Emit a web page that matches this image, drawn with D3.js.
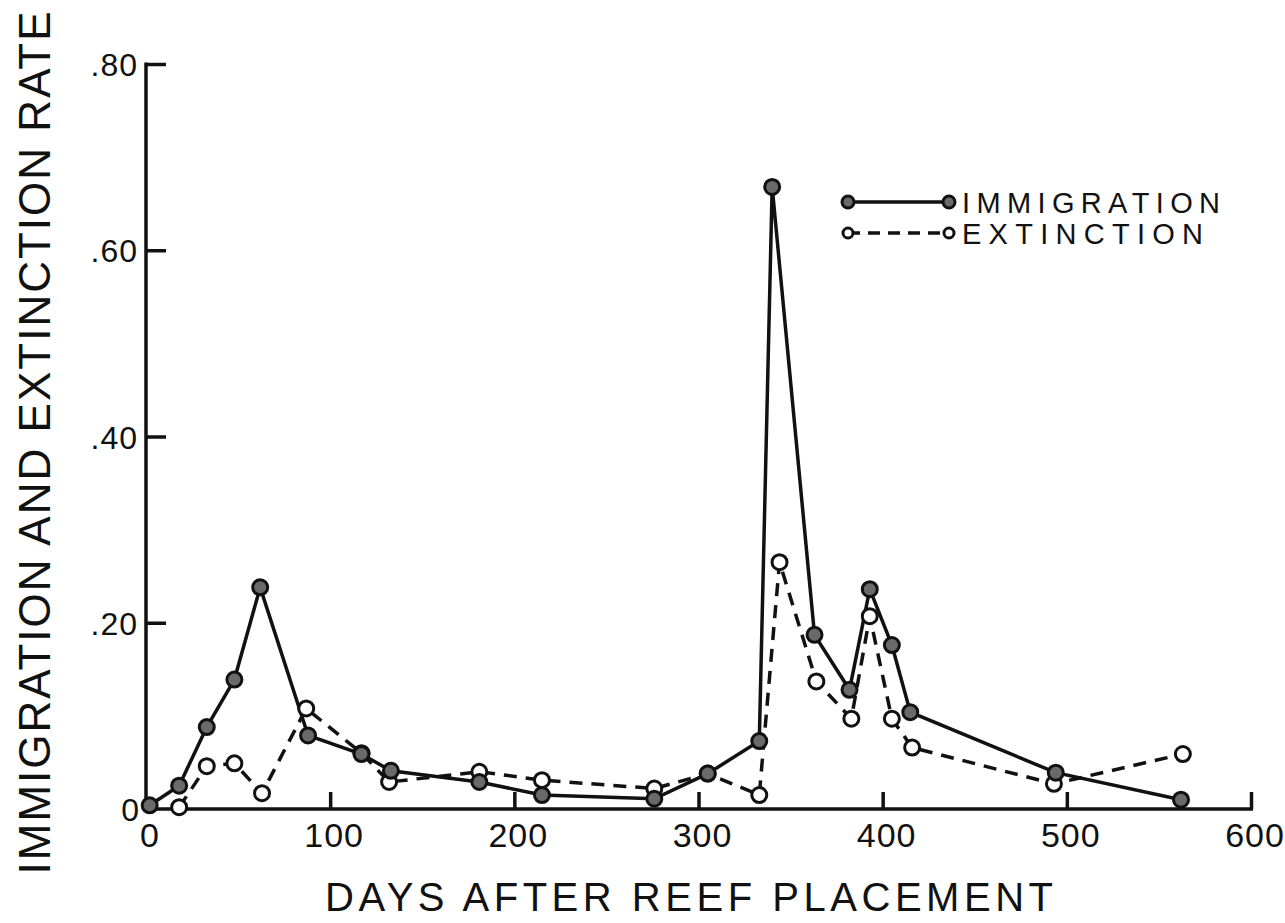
<!DOCTYPE html>
<html>
<head>
<meta charset="utf-8">
<script src="https://cdn.jsdelivr.net/npm/d3@7"></script>
<style>
  html, body { margin: 0; padding: 0; background: #fff; }
  svg { display: block; font-family: 'Liberation Sans', Arial, sans-serif; }
</style>
</head>
<body>
<div id="chart"></div>
<script>
// days after placement and rates
const immigrationDays = [2, 18, 33, 48, 62, 88, 117, 133, 181, 215, 276, 305, 333, 340, 363, 382, 393, 405, 415, 494, 562];
const immigrationRates = [0.004, 0.025, 0.088, 0.139, 0.238, 0.079, 0.059, 0.041, 0.029, 0.015, 0.011, 0.038, 0.073, 0.668, 0.187, 0.128, 0.236, 0.176, 0.104, 0.039, 0.010];

const extinctionDays = [18, 33, 48, 63, 87, 117, 132, 181, 215, 276, 305, 333, 344, 364, 383, 393, 405, 416, 493, 563];
const extinctionRates = [0.002, 0.046, 0.049, 0.017, 0.108, 0.060, 0.029, 0.040, 0.031, 0.022, 0.038, 0.015, 0.265, 0.137, 0.097, 0.207, 0.097, 0.066, 0.027, 0.059];

const xTicks = [0, 100, 200, 300, 400, 500, 600];
const xTickLabels = ['0', '100', '200', '300', '400', '500', '600'];
const yTicks = [0, 0.2, 0.4, 0.6, 0.8];
const yTickLabels = ['0', '.20', '.40', '.60', '.80'];

const legendLabels = ['IMMIGRATION', 'EXTINCTION'];

const width = 1285;
const height = 923;
const ink = '#111';

const svg = d3
  .select('#chart')
  .append('svg')
  .attr('width', width)
  .attr('height', height);

const x = d3.scaleLinear().domain([0, 600]).range([146, 1251]);
const y = d3.scaleLinear().domain([0, 0.8]).range([809, 64]);

const immigration = immigrationDays.map((day, i) => ({ day, rate: immigrationRates[i] }));
const extinction = extinctionDays.map((day, i) => ({ day, rate: extinctionRates[i] }));

// axes: ticks point inward, labels drawn by hand to match the lettering
const xAxis = svg
  .append('g')
  .attr('transform', `translate(0, ${y(0)})`)
  .call(
    d3
      .axisBottom(x)
      .tickValues(xTicks.slice(1))
      .tickSizeInner(-17)
      .tickSizeOuter(0)
      .tickFormat('')
  );
xAxis.select('.domain').attr('stroke', ink).attr('stroke-width', 3.5).attr('d', `M${x(0)},0H${x(600) + 2}`);
xAxis.selectAll('.tick line').attr('stroke', ink).attr('stroke-width', 3.5);

const yAxis = svg
  .append('g')
  .attr('transform', `translate(${x(0)}, 0)`)
  .call(
    d3
      .axisLeft(y)
      .tickValues(yTicks.slice(1))
      .tickSizeInner(-20)
      .tickSizeOuter(0)
      .tickFormat('')
  );
yAxis.select('.domain').attr('stroke', ink).attr('stroke-width', 3.5).attr('d', `M0,${y(0) + 2}V${y(0.8) - 1.5}`);
yAxis.selectAll('.tick line').attr('stroke', ink).attr('stroke-width', 3.5);

svg
  .append('g')
  .selectAll('text')
  .data(xTicks)
  .join('text')
  .attr('x', (d) => (d === 0 ? x(d) + 4 : x(d) + 4))
  .attr('y', 847)
  .attr('text-anchor', 'middle')
  .attr('font-size', 34)
  .attr('letter-spacing', 1)
  .attr('fill', ink)
  .text((d, i) => xTickLabels[i]);

svg
  .append('g')
  .selectAll('text')
  .data(yTicks)
  .join('text')
  .attr('x', (d) => (d === 0 ? 140 : 138))
  .attr('y', (d) => y(d) + 12)
  .attr('text-anchor', 'end')
  .attr('font-size', 32)
  .attr('letter-spacing', 1)
  .attr('fill', ink)
  .text((d, i) => yTickLabels[i]);

// axis titles
svg
  .append('text')
  .attr('x', 689)
  .attr('y', 911)
  .attr('text-anchor', 'middle')
  .attr('font-size', 40)
  .attr('textLength', 728)
  .attr('lengthAdjust', 'spacing')
  .attr('fill', ink)
  .text('DAYS AFTER REEF PLACEMENT');

svg
  .append('text')
  .attr('transform', 'translate(50, 443) rotate(-90)')
  .attr('text-anchor', 'middle')
  .attr('font-size', 44)
  .attr('textLength', 863)
  .attr('lengthAdjust', 'spacing')
  .attr('fill', ink)
  .text('IMMIGRATION AND EXTINCTION RATE');

// lines
const line = d3
  .line()
  .x((d) => x(d.day))
  .y((d) => y(d.rate));

svg
  .append('path')
  .datum(extinction)
  .attr('fill', 'none')
  .attr('stroke', ink)
  .attr('stroke-width', 3.5)
  .attr('stroke-dasharray', '13,9')
  .attr('d', line);

svg
  .append('path')
  .datum(immigration)
  .attr('fill', 'none')
  .attr('stroke', ink)
  .attr('stroke-width', 3.5)
  .attr('d', line);

svg
  .append('g')
  .selectAll('circle')
  .data(extinction)
  .join('circle')
  .attr('cx', (d) => x(d.day))
  .attr('cy', (d) => y(d.rate))
  .attr('r', 7.5)
  .attr('fill', '#fff')
  .attr('stroke', ink)
  .attr('stroke-width', 3);

svg
  .append('g')
  .selectAll('circle')
  .data(immigration)
  .join('circle')
  .attr('cx', (d) => x(d.day))
  .attr('cy', (d) => y(d.rate))
  .attr('r', 7.5)
  .attr('fill', '#6a6a6a')
  .attr('stroke', ink)
  .attr('stroke-width', 3);

// legend
const legend = svg.append('g').attr('transform', 'translate(848, 202)');

legendLabels.forEach((label, i) => {
  const row = legend.append('g').attr('transform', `translate(0, ${i * 31})`);
  row
    .append('line')
    .attr('x1', 0)
    .attr('x2', 101)
    .attr('stroke', ink)
    .attr('stroke-width', 3.5)
    .attr('stroke-dasharray', i === 0 ? null : '12,8');
  [0, 101].forEach((cx) => {
    row
      .append('circle')
      .attr('cx', cx)
      .attr('r', i === 0 ? 6 : 5)
      .attr('fill', i === 0 ? '#6a6a6a' : '#fff')
      .attr('stroke', ink)
      .attr('stroke-width', 3);
  });
  row
    .append('text')
    .attr('x', 114)
    .attr('y', 11)
    .attr('font-size', 29)
    .attr('textLength', i === 0 ? 258 : 241)
    .attr('lengthAdjust', 'spacing')
    .attr('fill', ink)
    .text(label);
});
</script>
</body>
</html>
